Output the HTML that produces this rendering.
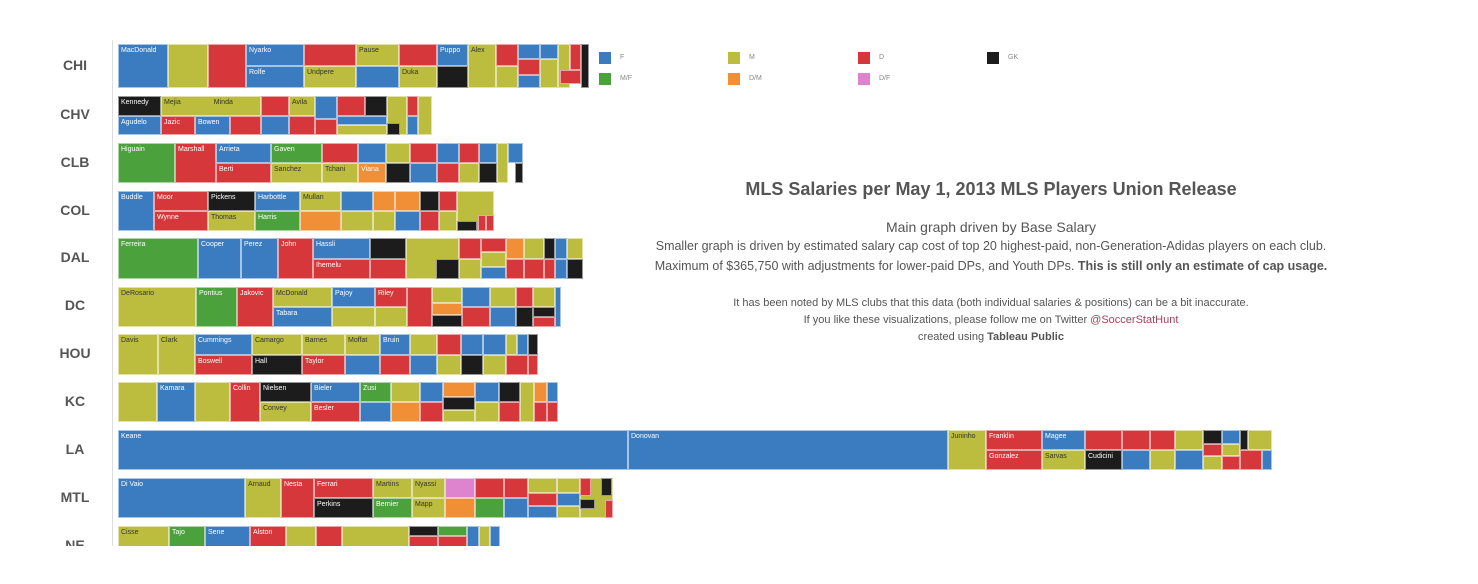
<!DOCTYPE html>
<html><head><meta charset="utf-8"><style>
body{margin:0;width:1478px;height:584px;background:#fff;overflow:hidden;font-family:"Liberation Sans",sans-serif;position:relative}
.r{position:absolute;left:0;width:1478px}
.r div{position:absolute;box-sizing:border-box;border:1px solid rgba(255,255,255,.55);font-size:7px;line-height:12px;padding-left:2px;overflow:hidden;white-space:nowrap;color:#fff}
.f{top:0;height:100%}.t{top:0;height:50%}.b{top:50%;height:50%}
.B{background:#3b7cc0}.O{background:#bcbd3f;color:#333!important}.R{background:#d5373a}.K{background:#1c1c1c}.G{background:#4ba13c}.Y{background:#f08f35}.P{background:#de84cf}
.lab{position:absolute;left:50px;width:50px;text-align:center;font-size:14px;font-weight:bold;color:#555}
.lg{position:absolute;width:12px;height:12px}.lt{position:absolute;font-size:7px;color:#888}
.tx{position:absolute;left:600px;width:782px;text-align:center;color:#555}
</style></head><body>
<div style="position:absolute;left:112px;top:40px;width:1px;height:506px;background:#ddd"></div>
<div style="position:absolute;left:0;top:0;width:1478px;height:546px;overflow:hidden">
<div class="lab" style="top:57px">CHI</div>
<div class="lab" style="top:106px">CHV</div>
<div class="lab" style="top:154px">CLB</div>
<div class="lab" style="top:202px">COL</div>
<div class="lab" style="top:249px">DAL</div>
<div class="lab" style="top:297px">DC</div>
<div class="lab" style="top:345px">HOU</div>
<div class="lab" style="top:393px">KC</div>
<div class="lab" style="top:441px">LA</div>
<div class="lab" style="top:489px">MTL</div>
<div class="lab" style="top:537px">NE</div>

<div class="r" style="top:44px;height:44px">
<div class="f B" style="left:118px;width:50px">MacDonald</div><div class="f O" style="left:168px;width:40px"></div><div class="f R" style="left:208px;width:38px"></div>
<div class="t B" style="left:246px;width:58px">Nyarko</div><div class="b B" style="left:246px;width:58px">Rolfe</div>
<div class="t R" style="left:304px;width:52px"></div><div class="b O" style="left:304px;width:52px">Undpere</div>
<div class="t O" style="left:356px;width:43px">Pause</div><div class="b B" style="left:356px;width:43px"></div>
<div class="t R" style="left:399px;width:38px"></div><div class="b O" style="left:399px;width:38px">Duka</div>
<div class="t B" style="left:437px;width:31px">Puppo</div><div class="b K" style="left:437px;width:31px"></div>
<div class="f O" style="left:468px;width:28px">Alex</div>
<div class="t R" style="left:496px;width:22px"></div><div class="b O" style="left:496px;width:22px"></div>
<div class="t B" style="left:518px;width:22px;height:35%"></div><div style="left:518px;width:22px;top:35%;height:35%" class="R"></div><div style="left:518px;width:22px;top:70%;height:30%" class="B"></div>
<div class="t B" style="left:540px;width:18px;height:35%"></div><div class="O" style="left:540px;width:18px;top:35%;height:65%"></div>
<div class="f O" style="left:558px;width:12px"></div><div class="R" style="left:570px;top:0;height:60%;width:11px"></div><div class="R" style="left:560px;top:60%;height:30%;width:21px"></div><div class="f K" style="left:581px;width:8px"></div>
</div>

<div class="r" style="top:96px;height:39px">
<div class="t K" style="left:118px;width:43px">Kennedy</div><div class="b B" style="left:118px;width:43px">Agudelo</div>
<div class="t O" style="left:161px;width:100px">Mejia &nbsp; &nbsp; &nbsp; &nbsp; &nbsp; &nbsp; &nbsp; &nbsp; Minda</div>
<div class="b R" style="left:161px;width:34px">Jazic</div><div class="b B" style="left:195px;width:35px">Bowen</div><div class="b R" style="left:230px;width:31px"></div>
<div class="t R" style="left:261px;width:28px"></div><div class="b B" style="left:261px;width:28px"></div>
<div class="t O" style="left:289px;width:26px">Avila</div><div class="b R" style="left:289px;width:26px"></div>
<div class="f B" style="left:315px;width:22px;height:60%"></div><div class="B" style="left:315px;width:22px;top:60%;height:40%;background:#d5373a"></div>
<div class="t R" style="left:337px;width:28px"></div><div class="t K" style="left:365px;width:22px"></div>
<div class="B" style="left:337px;width:50px;top:50%;height:25%"></div><div class="O" style="left:337px;width:50px;top:75%;height:25%"></div>
<div class="f O" style="left:387px;width:20px"></div><div class="K" style="left:387px;width:13px;top:70%;height:30%"></div>
<div class="t R" style="left:407px;width:11px"></div><div class="b B" style="left:407px;width:11px"></div><div class="f O" style="left:418px;width:14px"></div>
</div>

<div class="r" style="top:143px;height:40px">
<div class="f G" style="left:118px;width:57px">Higuain</div><div class="f R" style="left:175px;width:41px">Marshall</div>
<div class="t B" style="left:216px;width:55px">Arrieta</div><div class="b R" style="left:216px;width:55px">Berti</div>
<div class="t G" style="left:271px;width:51px">Gaven</div><div class="b O" style="left:271px;width:51px">Sanchez</div>
<div class="t R" style="left:322px;width:36px"></div><div class="b O" style="left:322px;width:36px">Tchani</div>
<div class="t B" style="left:358px;width:28px"></div><div class="b Y" style="left:358px;width:28px">Viana</div>
<div class="t O" style="left:386px;width:24px"></div><div class="b K" style="left:386px;width:24px"></div>
<div class="t R" style="left:410px;width:27px"></div><div class="b B" style="left:410px;width:27px"></div>
<div class="t B" style="left:437px;width:22px"></div><div class="b R" style="left:437px;width:22px"></div>
<div class="t R" style="left:459px;width:20px"></div><div class="b O" style="left:459px;width:20px"></div>
<div class="t B" style="left:479px;width:18px"></div><div class="b K" style="left:479px;width:18px"></div>
<div class="f O" style="left:497px;width:11px"></div><div class="t B" style="left:508px;width:15px"></div><div class="b K" style="left:515px;width:8px"></div>
</div>

<div class="r" style="top:191px;height:40px">
<div class="f B" style="left:118px;width:36px">Buddle</div>
<div class="t R" style="left:154px;width:54px">Moor</div><div class="b R" style="left:154px;width:54px">Wynne</div>
<div class="t K" style="left:208px;width:47px">Pickens</div><div class="b O" style="left:208px;width:47px">Thomas</div>
<div class="t B" style="left:255px;width:45px">Harbottle</div><div class="b G" style="left:255px;width:45px">Harris</div>
<div class="t O" style="left:300px;width:41px">Mullan</div><div class="b Y" style="left:300px;width:41px"></div>
<div class="t B" style="left:341px;width:32px"></div><div class="b O" style="left:341px;width:32px"></div>
<div class="t Y" style="left:373px;width:22px"></div><div class="b O" style="left:373px;width:22px"></div>
<div class="t Y" style="left:395px;width:25px"></div><div class="b B" style="left:395px;width:25px"></div>
<div class="t K" style="left:420px;width:19px"></div><div class="b R" style="left:420px;width:19px"></div>
<div class="t R" style="left:439px;width:18px"></div><div class="b O" style="left:439px;width:18px"></div>
<div class="f O" style="left:457px;width:37px"></div><div class="K" style="left:457px;width:20px;top:75%;height:25%"></div><div class="R" style="left:478px;width:8px;top:60%;height:40%"></div><div class="R" style="left:486px;width:8px;top:60%;height:40%"></div>
</div>

<div class="r" style="top:238px;height:41px">
<div class="f G" style="left:118px;width:80px">Ferreira</div><div class="f B" style="left:198px;width:43px">Cooper</div><div class="f B" style="left:241px;width:37px">Perez</div><div class="f R" style="left:278px;width:35px">John</div>
<div class="t B" style="left:313px;width:57px">Hassli</div><div class="b R" style="left:313px;width:57px">Ihemelu</div>
<div class="t K" style="left:370px;width:36px"></div><div class="b R" style="left:370px;width:36px"></div>
<div class="f O" style="left:406px;width:53px"></div><div class="b K" style="left:436px;width:23px"></div>
<div class="t R" style="left:459px;width:22px"></div><div class="b O" style="left:459px;width:22px"></div>
<div class="R" style="left:481px;width:25px;top:0;height:35%"></div><div class="O" style="left:481px;width:25px;top:35%;height:35%"></div><div class="B" style="left:481px;width:25px;top:70%;height:30%"></div>
<div class="t Y" style="left:506px;width:18px"></div><div class="b R" style="left:506px;width:18px"></div>
<div class="t O" style="left:524px;width:20px"></div><div class="b R" style="left:524px;width:20px"></div>
<div class="t K" style="left:544px;width:11px"></div><div class="b R" style="left:544px;width:11px"></div>
<div class="t B" style="left:555px;width:12px"></div><div class="b B" style="left:555px;width:12px"></div>
<div class="t O" style="left:567px;width:16px"></div><div class="b K" style="left:567px;width:16px"></div>
</div>

<div class="r" style="top:287px;height:40px">
<div class="f O" style="left:118px;width:78px">DeRosario</div><div class="f G" style="left:196px;width:41px">Pontius</div><div class="f R" style="left:237px;width:36px">Jakovic</div>
<div class="t O" style="left:273px;width:59px">McDonald</div><div class="b B" style="left:273px;width:59px">Tabara</div>
<div class="t B" style="left:332px;width:43px">Pajoy</div><div class="b O" style="left:332px;width:43px"></div>
<div class="t R" style="left:375px;width:32px">Riley</div><div class="b O" style="left:375px;width:32px"></div>
<div class="f R" style="left:407px;width:25px"></div>
<div class="O" style="left:432px;width:30px;top:0;height:40%"></div><div class="Y" style="left:432px;width:30px;top:40%;height:30%"></div><div class="K" style="left:432px;width:30px;top:70%;height:30%"></div>
<div class="t B" style="left:462px;width:28px"></div><div class="b R" style="left:462px;width:28px"></div>
<div class="t O" style="left:490px;width:26px"></div><div class="b B" style="left:490px;width:26px"></div>
<div class="t R" style="left:516px;width:17px"></div><div class="b K" style="left:516px;width:17px"></div>
<div class="t O" style="left:533px;width:22px"></div><div class="K" style="left:533px;width:22px;top:50%;height:25%"></div><div class="R" style="left:533px;width:22px;top:75%;height:25%"></div>
<div class="f B" style="left:555px;width:6px"></div>
</div>

<div class="r" style="top:334px;height:41px">
<div class="f O" style="left:118px;width:40px">Davis</div><div class="f O" style="left:158px;width:37px">Clark</div>
<div class="t B" style="left:195px;width:57px">Cummings</div><div class="b R" style="left:195px;width:57px">Boswell</div>
<div class="t O" style="left:252px;width:50px">Camargo</div><div class="b K" style="left:252px;width:50px">Hall</div>
<div class="t O" style="left:302px;width:43px">Barnes</div><div class="b R" style="left:302px;width:43px">Taylor</div>
<div class="t O" style="left:345px;width:35px">Moffat</div><div class="b B" style="left:345px;width:35px"></div>
<div class="t B" style="left:380px;width:30px">Bruin</div><div class="b R" style="left:380px;width:30px"></div>
<div class="t O" style="left:410px;width:27px"></div><div class="b B" style="left:410px;width:27px"></div>
<div class="t R" style="left:437px;width:24px"></div><div class="b O" style="left:437px;width:24px"></div>
<div class="t B" style="left:461px;width:22px"></div><div class="b K" style="left:461px;width:22px"></div>
<div class="t B" style="left:483px;width:23px"></div><div class="b B" style="left:483px;width:23px;background:#bcbd3f"></div>
<div class="t O" style="left:506px;width:11px"></div><div class="t B" style="left:517px;width:11px"></div><div class="t K" style="left:528px;width:10px"></div>
<div class="b R" style="left:506px;width:22px"></div><div class="b R" style="left:528px;width:10px"></div>
</div>

<div class="r" style="top:382px;height:40px">
<div class="f O" style="left:118px;width:39px"></div><div class="f B" style="left:157px;width:38px">Kamara</div><div class="f O" style="left:195px;width:35px"></div><div class="f R" style="left:230px;width:30px">Collin</div>
<div class="t K" style="left:260px;width:51px">Nielsen</div><div class="b O" style="left:260px;width:51px">Convey</div>
<div class="t B" style="left:311px;width:49px">Bieler</div><div class="b R" style="left:311px;width:49px">Besler</div>
<div class="t G" style="left:360px;width:31px">Zusi</div><div class="b B" style="left:360px;width:31px"></div>
<div class="t O" style="left:391px;width:29px"></div><div class="b Y" style="left:391px;width:29px"></div>
<div class="t B" style="left:420px;width:23px"></div><div class="b R" style="left:420px;width:23px"></div>
<div class="Y" style="left:443px;width:32px;top:0;height:38%"></div><div class="K" style="left:443px;width:32px;top:38%;height:32%"></div><div class="O" style="left:443px;width:32px;top:70%;height:30%"></div>
<div class="t B" style="left:475px;width:24px"></div><div class="b O" style="left:475px;width:24px"></div>
<div class="t K" style="left:499px;width:21px"></div><div class="b R" style="left:499px;width:21px"></div>
<div class="f O" style="left:520px;width:14px"></div><div class="t Y" style="left:534px;width:13px"></div><div class="b R" style="left:534px;width:13px"></div><div class="t B" style="left:547px;width:11px"></div><div class="b R" style="left:547px;width:11px"></div>
</div>

<div class="r" style="top:430px;height:40px">
<div class="f B" style="left:118px;width:510px">Keane</div><div class="f B" style="left:628px;width:320px">Donovan</div><div class="f O" style="left:948px;width:38px">Juninho</div>
<div class="t R" style="left:986px;width:56px">Franklin</div><div class="b R" style="left:986px;width:56px">Gonzalez</div>
<div class="t B" style="left:1042px;width:43px">Magee</div><div class="b O" style="left:1042px;width:43px">Sarvas</div>
<div class="t R" style="left:1085px;width:37px"></div><div class="b K" style="left:1085px;width:37px">Cudicini</div>
<div class="t R" style="left:1122px;width:28px"></div><div class="b B" style="left:1122px;width:28px"></div>
<div class="t R" style="left:1150px;width:25px"></div><div class="b O" style="left:1150px;width:25px"></div>
<div class="t O" style="left:1175px;width:28px"></div><div class="b B" style="left:1175px;width:28px"></div>
<div class="K" style="left:1203px;width:19px;top:0;height:35%"></div><div class="R" style="left:1203px;width:19px;top:35%;height:30%"></div><div class="O" style="left:1203px;width:19px;top:65%;height:35%"></div>
<div class="B" style="left:1222px;width:18px;top:0;height:35%"></div><div class="O" style="left:1222px;width:18px;top:35%;height:30%"></div><div class="R" style="left:1222px;width:18px;top:65%;height:35%"></div>
<div class="t K" style="left:1240px;width:8px"></div><div class="t O" style="left:1248px;width:24px"></div><div class="b R" style="left:1240px;width:22px"></div><div class="b B" style="left:1262px;width:10px"></div>
</div>

<div class="r" style="top:478px;height:40px">
<div class="f B" style="left:118px;width:127px">Di Vaio</div><div class="f O" style="left:245px;width:36px">Arnaud</div><div class="f R" style="left:281px;width:33px">Nesta</div>
<div class="t R" style="left:314px;width:59px">Ferrari</div><div class="b K" style="left:314px;width:59px">Perkins</div>
<div class="t O" style="left:373px;width:39px">Martins</div><div class="b G" style="left:373px;width:39px">Bernier</div>
<div class="t O" style="left:412px;width:33px">Nyassi</div><div class="b O" style="left:412px;width:33px">Mapp</div>
<div class="t P" style="left:445px;width:30px"></div><div class="b Y" style="left:445px;width:30px"></div>
<div class="t R" style="left:475px;width:29px"></div><div class="b G" style="left:475px;width:29px"></div>
<div class="t R" style="left:504px;width:24px"></div><div class="b B" style="left:504px;width:24px"></div>
<div class="O" style="left:528px;width:29px;top:0;height:38%"></div><div class="R" style="left:528px;width:29px;top:38%;height:32%"></div><div class="B" style="left:528px;width:29px;top:70%;height:30%"></div>
<div class="O" style="left:557px;width:23px;top:0;height:38%"></div><div class="B" style="left:557px;width:23px;top:38%;height:32%"></div><div class="O" style="left:557px;width:23px;top:70%;height:30%"></div>
<div class="f O" style="left:580px;width:33px"></div><div class="R" style="left:580px;width:11px;top:0;height:45%"></div><div class="K" style="left:601px;width:11px;top:0;height:45%"></div><div class="K" style="left:580px;width:15px;top:52%;height:25%"></div><div class="R" style="left:605px;width:8px;top:55%;height:45%"></div>
</div>

<div class="r" style="top:526px;height:40px">
<div class="f O" style="left:118px;width:51px">Cisse</div><div class="f G" style="left:169px;width:36px">Tajo</div><div class="f B" style="left:205px;width:45px">Sene</div><div class="f R" style="left:250px;width:36px">Alston</div>
<div class="f O" style="left:286px;width:30px"></div><div class="f R" style="left:316px;width:26px"></div><div class="f O" style="left:342px;width:67px"></div>
<div class="K" style="left:409px;width:29px;top:0;height:25%"></div><div class="R" style="left:409px;width:29px;top:25%;height:75%"></div>
<div class="G" style="left:438px;width:29px;top:0;height:25%"></div><div class="R" style="left:438px;width:29px;top:25%;height:75%"></div>
<div class="f B" style="left:467px;width:12px"></div><div class="f O" style="left:479px;width:11px"></div><div class="f B" style="left:490px;width:10px"></div>
</div>
</div>

<div class="lg B" style="left:599px;top:52px"></div><div class="lt" style="left:620px;top:54px">F</div>
<div class="lg G" style="left:599px;top:73px"></div><div class="lt" style="left:620px;top:75px">M/F</div>
<div class="lg O" style="left:728px;top:52px"></div><div class="lt" style="left:749px;top:54px">M</div>
<div class="lg Y" style="left:728px;top:73px"></div><div class="lt" style="left:749px;top:75px">D/M</div>
<div class="lg R" style="left:858px;top:52px"></div><div class="lt" style="left:879px;top:54px">D</div>
<div class="lg P" style="left:858px;top:73px"></div><div class="lt" style="left:879px;top:75px">D/F</div>
<div class="lg K" style="left:987px;top:52px"></div><div class="lt" style="left:1008px;top:54px">GK</div>

<div class="tx" style="top:179px;font-size:18px;font-weight:bold">MLS Salaries per May 1, 2013 MLS Players Union Release</div>
<div class="tx" style="top:219px;font-size:14px">Main graph driven by Base Salary</div>
<div class="tx" style="top:239px;font-size:12.5px">Smaller graph is driven by estimated salary cap cost of top 20 highest-paid, non-Generation-Adidas players on each club.</div>
<div class="tx" style="top:259px;font-size:12.5px">Maximum of $365,750 with adjustments for lower-paid DPs, and Youth DPs. <b>This is still only an estimate of cap usage.</b></div>
<div class="tx" style="top:297px;font-size:11px">It has been noted by MLS clubs that this data (both individual salaries &amp; positions) can be a bit inaccurate.</div>
<div class="tx" style="top:314px;font-size:11px">If you like these visualizations, please follow me on Twitter <span style="color:#a8405c">@SoccerStatHunt</span></div>
<div class="tx" style="top:331px;font-size:11px">created using <b>Tableau Public</b></div>
</body></html>
